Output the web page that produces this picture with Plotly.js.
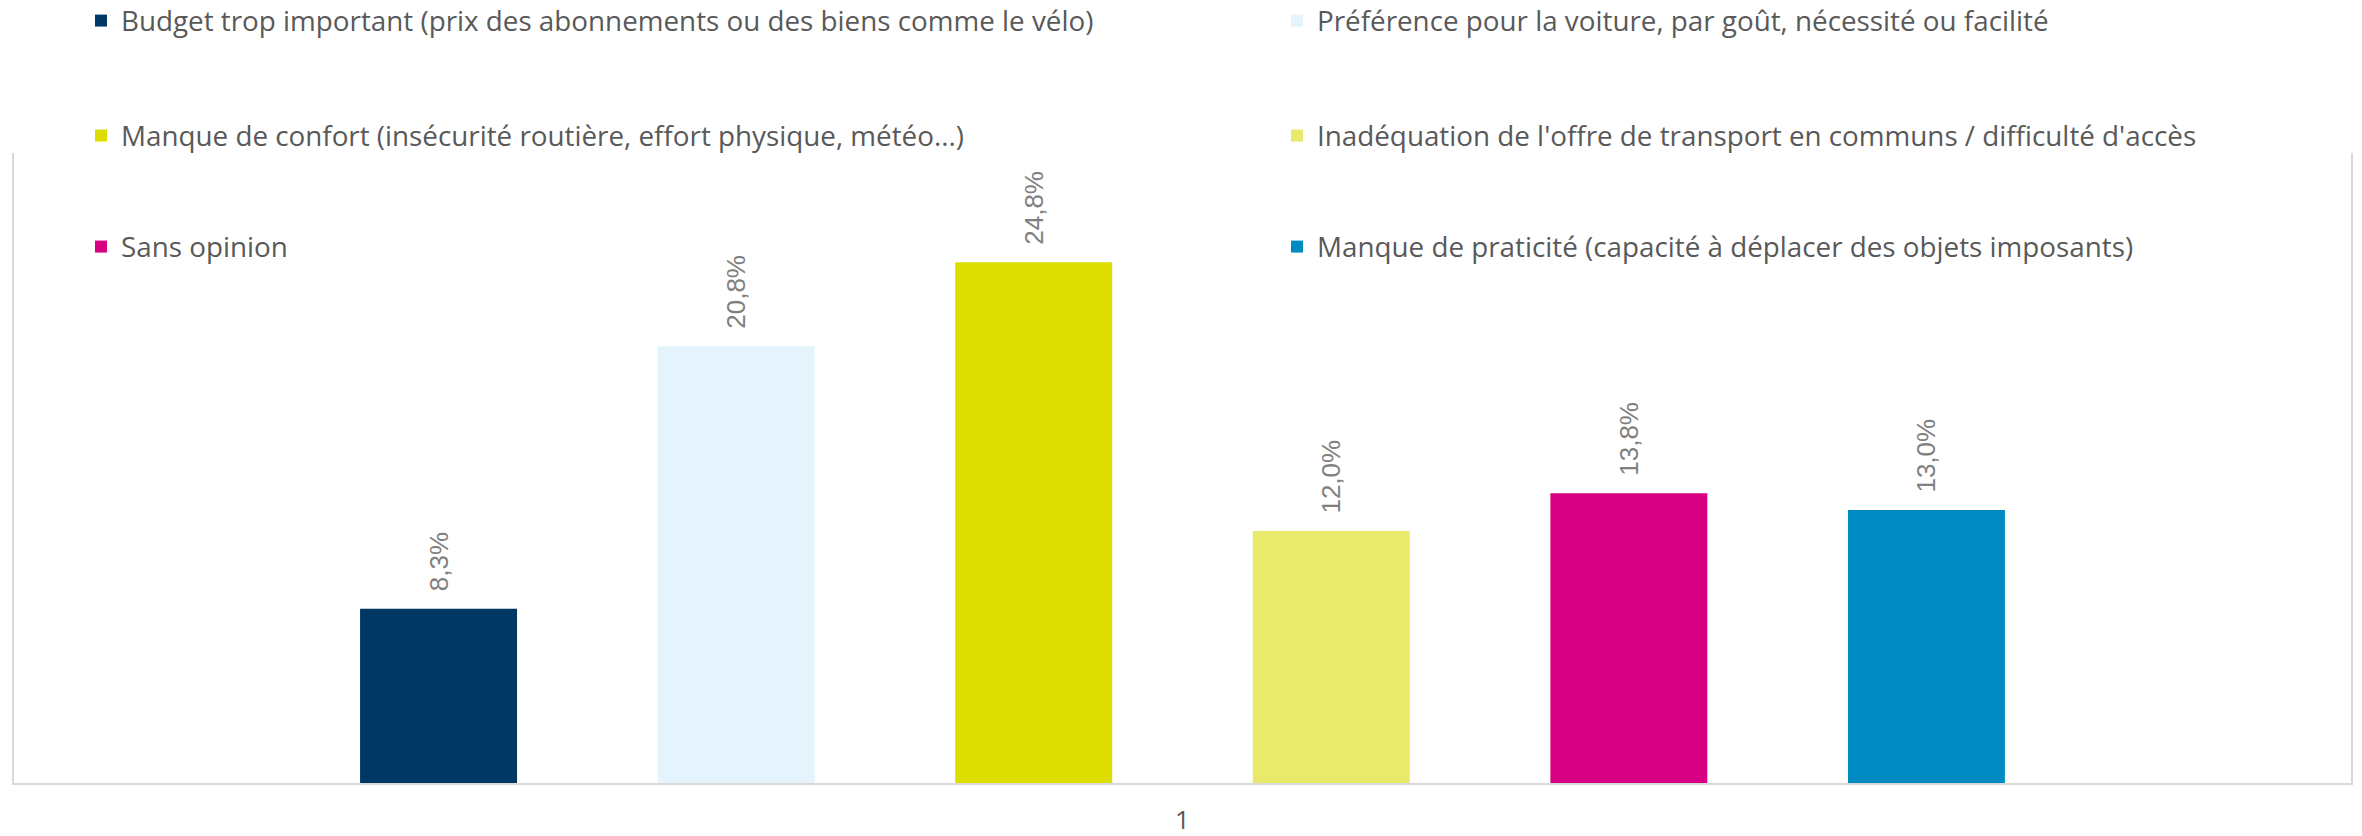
<!DOCTYPE html>
<html>
<head>
<meta charset="utf-8">
<script src="https://cdn.plot.ly/plotly-3.0.1.min.js"></script>
<style>html,body{margin:0;padding:0;background:#fff;}#chart{width:2362px;height:836px;}</style>
</head>
<body>
<div id="chart"></div>
<script>
const category = ['1'];
const seriesNames = [
  'Budget trop important (prix des abonnements ou des biens comme le vélo)',
  'Préférence pour la voiture, par goût, nécessité ou facilité',
  'Manque de confort (insécurité routière, effort physique, météo...)',
  "Inadéquation de l'offre de transport en communs / difficulté d'accès",
  'Sans opinion',
  'Manque de praticité (capacité à déplacer des objets imposants)'
];
const seriesValues = [8.3, 20.8, 24.8, 12.0, 13.8, 13.0];
const seriesColors = ['#003763', '#E5F3FC', '#DDDD00', '#E9E96B', '#D80082', '#008AC2'];

const legendKeys = ['legend', 'legend2', 'legend3', 'legend4', 'legend5', 'legend6'];

const traces = seriesNames.map((name, i) => ({
  type: 'bar',
  name: name,
  x: category,
  y: [seriesValues[i]],
  marker: {color: seriesColors[i]},
  texttemplate: '\u00a0\u00a0%{y:.1f}%',
  textposition: 'outside',
  textangle: -90,
  textfont: {family: 'Liberation Sans, Arial, sans-serif', size: 26, color: '#808080'},
  cliponaxis: false,
  legend: legendKeys[i],
  hoverinfo: 'skip'
}));

const legendFont = {family: 'Open Sans, sans-serif', size: 27.8, color: '#595959'};
const colX = [81, 1277];
const rowY = [21, 136, 247];

const layout = {
  width: 2362, height: 836,
  margin: {l: 14, r: 11, t: 153, b: 53, pad: 0, autoexpand: false},
  paper_bgcolor: '#ffffff', plot_bgcolor: 'rgba(0,0,0,0)',
  separators: ',.',
  barmode: 'group',
  bargap: 0.236,
  bargroupgap: 0.4725,
  showlegend: true,
  xaxis: {
    type: 'category',
    showline: true, linecolor: '#D9D9D9', linewidth: 2,
    ticks: '', showgrid: false, zeroline: false,
    tickfont: {family: 'Open Sans, sans-serif', size: 26, color: '#595959'},
    ticklabelstandoff: 13,
    fixedrange: true
  },
  yaxis: {
    range: [0, 30],
    showline: true, mirror: true, linecolor: '#D9D9D9', linewidth: 2,
    showgrid: false, zeroline: false, showticklabels: false, ticks: '',
    fixedrange: true
  }
};

legendKeys.forEach((key, i) => {
  const col = i % 2, row = Math.floor(i / 2);
  layout[key] = {
    orientation: 'h',
    xref: 'container', yref: 'container',
    x: colX[col] / 2362, xanchor: 'left',
    y: 1 - rowY[row] / 836, yanchor: 'middle',
    font: legendFont,
    bgcolor: 'rgba(0,0,0,0)'
  };
});

Plotly.newPlot('chart', traces, layout, {displayModeBar: false, staticPlot: true});
</script>
</body>
</html>
